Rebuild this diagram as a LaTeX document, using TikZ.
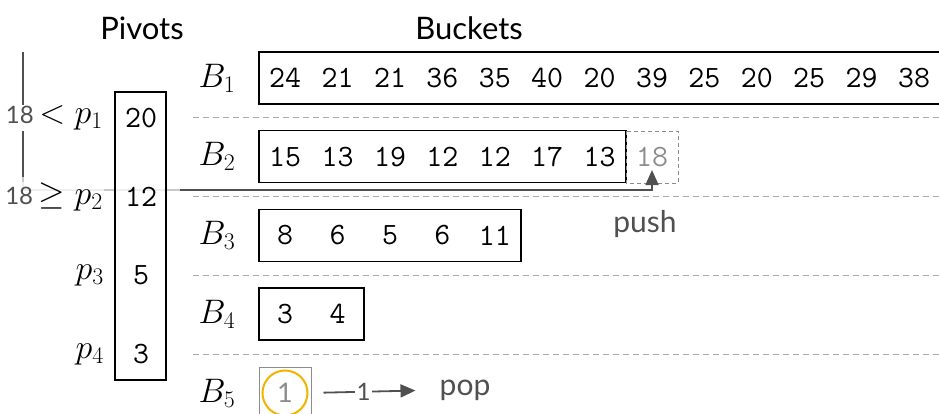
\RequirePackage{fix-cm}
\documentclass[tikz,border=0pt]{standalone}
\usepackage{fontspec}
\newfontfamily\lato{Lato}
\usetikzlibrary{arrows.meta}

\definecolor{linegray}{HTML}{505050}
\definecolor{fadegray}{HTML}{C8C8C8}
\definecolor{sepgray}{HTML}{ABABAB}
\definecolor{ghost}{HTML}{8C8C8C}
\definecolor{ringgold}{HTML}{F2B400}

\tikzset{
  num/.style={font=\ttfamily\fontsize{31}{36}\selectfont, inner sep=0pt},
  head/.style={font=\lato\fontsize{31}{36}\selectfont, inner sep=0pt},
  note/.style={font=\lato\fontsize{30}{35}\selectfont, text=linegray, inner sep=0pt},
  mlabel/.style={font=\fontsize{34}{40}\selectfont, inner sep=0pt},
  bucket/.style={draw, line width=1.6pt},
  sepline/.style={draw=sepgray, dash pattern=on 6pt off 4pt, line width=1pt},
  conn/.style={draw=linegray, line width=1.8pt},
  tip/.style={-{Triangle[length=15pt,width=13pt]}},
}
\newcommand{\smallnum}[1]{{\lato\fontsize{24}{28}\selectfont\color{linegray}#1}}

\begin{document}
\begin{tikzpicture}[x=1pt,y=-1pt]
\useasboundingbox (0,0) rectangle (939,414);
\clip (0,0) rectangle (939,414);

% headers
\node[head] (hp) at (142,28) {Pivots};
\node[head] (hb) at (469,28) {Buckets};

% row separators
\foreach \y in {118,197,275,354}
  \draw[sepline] (193,\y) -- (939,\y);

% buckets
\def\cw{52.4}
\foreach \vals [count=\r] in {{24,21,21,36,35,40,20,39,25,20,25,29,38},
                              {15,13,19,12,12,17,13},
                              {8,6,5,6,11},
                              {3,4}} {
  \pgfmathsetmacro{\ytop}{52+78.7*(\r-1)}
  \pgfmathsetmacro{\ymid}{\ytop+26}
  \foreach \v [count=\k] in \vals {
    \node[num] (b\r-\k) at ({259+\cw*(\k-0.5)},\ymid) {\v};
    \xdef\ncells{\k}
  }
  \draw[bucket] (259,\ytop) rectangle ({259+\cw*\ncells},\ytop+52);
  \node[mlabel] (B\r) at (217,\ymid) {$B_{\r}$};
}
\node[mlabel] (B5) at (217,393) {$B_5$};

% pushed element
\draw[draw=ghost, dash pattern=on 4pt off 3pt, line width=0.8pt] (626,131) rectangle (678,183);
\node[num, text=ghost] (n18) at (652,157) {18};
\node[note] (push) at (645,224) {push};

% popped element
\draw[draw=ghost, line width=0.8pt] (259,367) rectangle (311,420);
\node[circle, draw=ringgold, line width=2pt, minimum size=45pt, inner sep=0pt,
      font=\lato\fontsize{27}{32}\selectfont, text=ghost] (c1) at (285,393) {1};
\node[note] (pop) at (465,390) {pop};
\draw[conn, tip, shorten <=15pt, shorten >=24pt] (c1.east) --
  node[pos=0.42, fill=white, inner sep=2pt] {\smallnum{1}} (pop.west);

% comparison path of the new element
\coordinate (start) at (23,52);
\coordinate (bend) at (23,190);
\draw[conn, tip] (start) -- (bend) -| ([yshift=-3pt]n18.south);
\draw[draw=fadegray, line width=1.8pt] (23,177) |- (180,190);

% pivots
\draw[bucket, fill=white, fill opacity=0.7] (115,92) rectangle (166,380);
\foreach \v/\y [count=\i] in {20/118,12/197,5/275,3/354}
  \node[num] (p\i) at (141,\y) {\v};

\node[mlabel, anchor=east, fill=white, inner sep=1pt] (l1) at (104,118) {\smallnum{18}\,$<p_1$};
\node[mlabel, anchor=east, fill=white, fill opacity=0.7, text opacity=1, inner sep=1pt] (l2) at (104,197) {\smallnum{18}\,$\geq p_2$};
\node[mlabel, anchor=east] (l3) at (104,275) {$p_3$};
\node[mlabel, anchor=east] (l4) at (104,354) {$p_4$};
\end{tikzpicture}
\end{document}
